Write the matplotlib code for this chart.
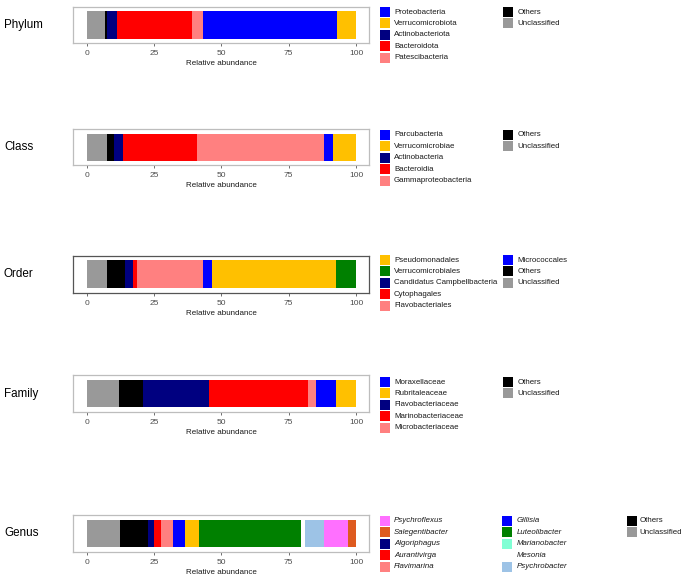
import matplotlib
matplotlib.use('Agg')
import matplotlib.pyplot as plt
from matplotlib.patches import Rectangle

plt.rcParams['font.family'] = ['Liberation Sans', 'DejaVu Sans']

W, H = 685, 579

# ── Data (stacking order left -> right, percent) ─────────────────

phylum_taxa = ['Unclassified', 'Others', 'Actinobacteriota', 'Bacteroidota',
               'Patescibacteria', 'Proteobacteria', 'Verrucomicrobiota']
phylum_vals = [6.6, 1.0, 3.7, 27.7, 4.3, 49.5, 7.2]
phylum_leg = [['Proteobacteria', 'Verrucomicrobiota', 'Actinobacteriota',
               'Bacteroidota', 'Patescibacteria'],
              ['Others', 'Unclassified']]

class_taxa = ['Unclassified', 'Others', 'Actinobacteria', 'Bacteroidia',
              'Gammaproteobacteria', 'Parcubacteria', 'Verrucomicrobiae']
class_vals = [7.4, 2.6, 3.6, 27.4, 47.2, 3.3, 8.5]
class_leg = [['Parcubacteria', 'Verrucomicrobiae', 'Actinobacteria',
              'Bacteroidia', 'Gammaproteobacteria'],
             ['Others', 'Unclassified']]

order_taxa = ['Unclassified', 'Others', 'Candidatus Campbellbacteria',
              'Cytophagales', 'Flavobacteriales', 'Micrococcales',
              'Pseudomonadales', 'Verrucomicrobiales']
order_vals = [7.4, 6.9, 2.7, 1.6, 24.7, 3.2, 46.1, 7.4]
order_leg = [['Pseudomonadales', 'Verrucomicrobiales', 'Candidatus Campbellbacteria',
              'Cytophagales', 'Flavobacteriales'],
             ['Micrococcales', 'Others', 'Unclassified']]

family_taxa = ['Unclassified', 'Others', 'Flavobacteriaceae', 'Marinobacteriaceae',
               'Microbacteriaceae', 'Moraxellaceae', 'Rubritaleaceae']
family_vals = [11.9, 9.0, 24.5, 36.9, 2.7, 7.7, 7.3]
family_leg = [['Moraxellaceae', 'Rubritaleaceae', 'Flavobacteriaceae',
               'Marinobacteriaceae', 'Microbacteriaceae'],
              ['Others', 'Unclassified']]

genus_taxa = ['Unclassified', 'Others', 'Algoriphagus', 'Aurantivirga', 'Flavimarina',
              'Gillisia', 'Unlisted', 'Luteolibacter', 'Mesonia', 'Psychrobacter',
              'Psychroflexus', 'Salegentibacter']
genus_vals = [12.4, 10.5, 1.9, 2.6, 4.7, 4.2, 5.4, 37.8, 1.4, 7.3, 8.9, 2.9]
genus_leg = [['Psychroflexus', 'Salegentibacter', 'Algoriphagus', 'Aurantivirga', 'Flavimarina'],
             ['Gillisia', 'Luteolibacter', 'Marianobacter', 'Mesonia', 'Psychrobacter'],
             ['Others', 'Unclassified']]

COL = {
    'Unclassified': '#999999', 'Others': '#000000',
    'Proteobacteria': '#0000FF', 'Verrucomicrobiota': '#FFC000',
    'Actinobacteriota': '#000080', 'Bacteroidota': '#FF0000',
    'Patescibacteria': '#FF8080',
    'Parcubacteria': '#0000FF', 'Verrucomicrobiae': '#FFC000',
    'Actinobacteria': '#000080', 'Bacteroidia': '#FF0000',
    'Gammaproteobacteria': '#FF8080',
    'Pseudomonadales': '#FFC000', 'Verrucomicrobiales': '#008000',
    'Candidatus Campbellbacteria': '#000080', 'Cytophagales': '#FF0000',
    'Flavobacteriales': '#FF8080', 'Micrococcales': '#0000FF',
    'Moraxellaceae': '#0000FF', 'Rubritaleaceae': '#FFC000',
    'Flavobacteriaceae': '#000080', 'Marinobacteriaceae': '#FF0000',
    'Microbacteriaceae': '#FF8080',
    'Psychroflexus': '#FF70FF', 'Salegentibacter': '#DE5A1F',
    'Algoriphagus': '#000080', 'Aurantivirga': '#FF0000', 'Flavimarina': '#FF8080',
    'Gillisia': '#0000FF', 'Luteolibacter': '#008000', 'Marianobacter': '#80FFD4',
    'Mesonia': '#FFFFFF', 'Psychrobacter': '#9DC3E6', 'Unlisted': '#FFC000',
}

# ── Layout (pixel positions) ─────────────────────────────────────

panels = [
    # title, taxa, vals, legend, box top, box bottom, first legend row, frame colour
    ('Phylum', phylum_taxa, phylum_vals, phylum_leg, 6.7, 43.3, 12.0, '#bdbdbd'),
    ('Class', class_taxa, class_vals, class_leg, 129.3, 165.0, 135.0, '#bdbdbd'),
    ('Order', order_taxa, order_vals, order_leg, 255.7, 293.0, 260.0, '#555555'),
    ('Family', family_taxa, family_vals, family_leg, 375.0, 412.0, 382.0, '#bdbdbd'),
    ('Genus', genus_taxa, genus_vals, genus_leg, 515.0, 552.0, 521.0, '#bdbdbd'),
]

col_x = [(379.5, 394.0), (503.0, 517.5), (627.0, 639.5)]
row_h = 11.4
sw = 10.0

fig = plt.figure(figsize=(W/100, H/100), dpi=100)
fig.patch.set_facecolor('white')

def fx(px): return px / W
def fy(py): return 1 - py / H

left_px, right_px = 73.3, 369.5
for title, taxa, vals, leg, top, bot, row0, fcol in panels:
    ax = fig.add_axes([fx(left_px), fy(bot), fx(right_px - left_px), (bot - top) / H])
    cum = 0
    for t, v in zip(taxa, vals):
        ax.barh(1, v, left=cum, height=0.9, color=COL[t], linewidth=0)
        cum += v
    ax.set_xlim(-5, 105); ax.set_ylim(0.4, 1.6)
    ax.set_yticks([])
    ax.set_xticks([0, 25, 50, 75, 100])
    ax.tick_params(axis='x', length=2.5, width=0.6, color='#555555',
                   labelsize=6, labelcolor='#4d4d4d', pad=2.5)
    for sp in ax.spines.values():
        sp.set_color(fcol); sp.set_linewidth(0.9)
    ax.set_xlabel('Relative abundance', fontsize=5.8, labelpad=2, color='#1a1a1a')

    fig.text(fx(4), fy((top + bot) / 2), title, fontsize=8.4, va='center', ha='left')

    italic = title == 'Genus'
    for ci, entries in enumerate(leg):
        sx, tx = col_x[ci]
        if italic and ci == 1:
            sx, tx = 502.3, 516.7
        for ri, name in enumerate(entries):
            cy = row0 + ri * row_h
            fig.add_artist(Rectangle((fx(sx), fy(cy + sw / 2)), sw / W, sw / H,
                                     transform=fig.transFigure, facecolor=COL[name],
                                     edgecolor='none'))
            style = 'italic' if (italic and name not in ('Others', 'Unclassified')) else 'normal'
            fig.text(fx(tx), fy(cy), name, fontsize=5.7, va='center', ha='left',
                     style=style, color='#1a1a1a')

fig.savefig('out.png', dpi=100, facecolor='white')
